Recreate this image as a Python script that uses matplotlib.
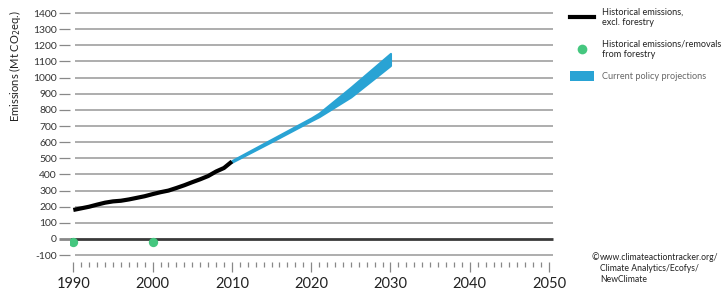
import numpy as np
import matplotlib.pyplot as plt
from matplotlib.lines import Line2D
from matplotlib.patches import Patch

plt.rcParams['font.family'] = ['Lato', 'DejaVu Sans']

# historical emissions excl. forestry (Mt CO2eq)
hist_years = list(range(1990, 2011))
hist_vals = [180, 190, 200, 213, 225, 233, 237, 245, 255, 265, 278,
             290, 300, 316, 333, 352, 370, 390, 418, 440, 480]

# forestry emissions/removals
forest_years = [1990, 2000]
forest_vals = [-20, -20]

# current policy projection range
proj_years = [2010, 2015, 2020, 2021, 2025, 2030]
proj_low = [476, 603, 733, 758, 880, 1075]
proj_high = [486, 618, 750, 780, 940, 1150]

yticks = list(range(-100, 1500, 100))
decades = [1990, 2000, 2010, 2020, 2030, 2040, 2050]

blue = '#29a3d4'
green = '#45c77f'

fig = plt.figure(figsize=(7.28, 2.96), dpi=100)
ax = fig.add_axes([70/728, 1 - 262/296, (557 - 70)/728, (262 - 9.8)/296])
ax.set_xlim(1989.58, 2051)
ax.set_ylim(-142.5, 1420)

for s in ax.spines.values():
    s.set_visible(False)

# gridlines
for v in yticks:
    if v == 0:
        ax.hlines(0, 1989.58, 2050.5, color='#3a3a3a', lw=2, zorder=1)
    else:
        ax.hlines(v, 1990.2, 2050.5, color='#a0a0a0', lw=1.2, zorder=1)

ax.fill_between(proj_years, proj_low, proj_high, color=blue, lw=1.5,
                edgecolor=blue, zorder=3)
ax.plot(hist_years, hist_vals, color='black', lw=3, zorder=4,
        solid_capstyle='butt')
ax.scatter(forest_years, forest_vals, s=45, color=green, zorder=5, lw=0)

ax.set_yticks(yticks)
ax.set_yticklabels([str(v) for v in yticks])
ax.tick_params(axis='y', length=8, width=0.9, color='#888888', pad=1.5,
               labelsize=7.5, labelcolor='#333333')
ax.set_xticks(decades)
ax.set_xticks(range(1990, 2051), minor=True)
ax.tick_params(axis='x', which='major', length=7.5, width=0.9,
               color='#888888', pad=3, labelsize=10.5, labelcolor='#222222')
ax.tick_params(axis='x', which='minor', length=3.5, width=0.9,
               color='#888888')
for t, v in zip(ax.yaxis.get_major_ticks(), yticks):
    if v == 0:
        t.tick1line.set_color('#3a3a3a')
        t.tick1line.set_markeredgewidth(2)

ax.set_ylabel('Emissions (Mt CO$_2$eq.)', fontsize=8, color='#222222')
ax.yaxis.set_label_coords((23 - 70) / 487, (262 - 66) / 252.2)

handles = [Line2D([0], [0], color='black', lw=3),
           Line2D([0], [0], marker='o', color='none', markerfacecolor=green,
                  markeredgecolor='none', markersize=7),
           Patch(facecolor=blue, edgecolor='none')]
labels = ['Historical emissions,\nexcl. forestry',
          'Historical emissions/removals\nfrom forestry',
          'Current policy projections']
leg = fig.legend(handles, labels, loc='upper left',
                 bbox_to_anchor=(562/728, 1 + 1/296), frameon=False,
                 fontsize=6.6, handlelength=2.6, handleheight=1.25,
                 labelspacing=1.3, handletextpad=0.85)
for txt in leg.get_texts()[:2]:
    txt.set_color('#222222')
    txt.set_linespacing(1.3)
leg.get_texts()[2].set_color('#666666')

fig.text(592/728, 1 - 258/296, '©', fontsize=6.5, color='#222222',
         va='center')
fig.text(600/728, 1 - 253/296,
         'www.climateactiontracker.org/\nClimate Analytics/Ecofys/\nNewClimate',
         fontsize=6.2, color='#222222', va='top', linespacing=1.3)

fig.savefig('out.png', dpi=100)
